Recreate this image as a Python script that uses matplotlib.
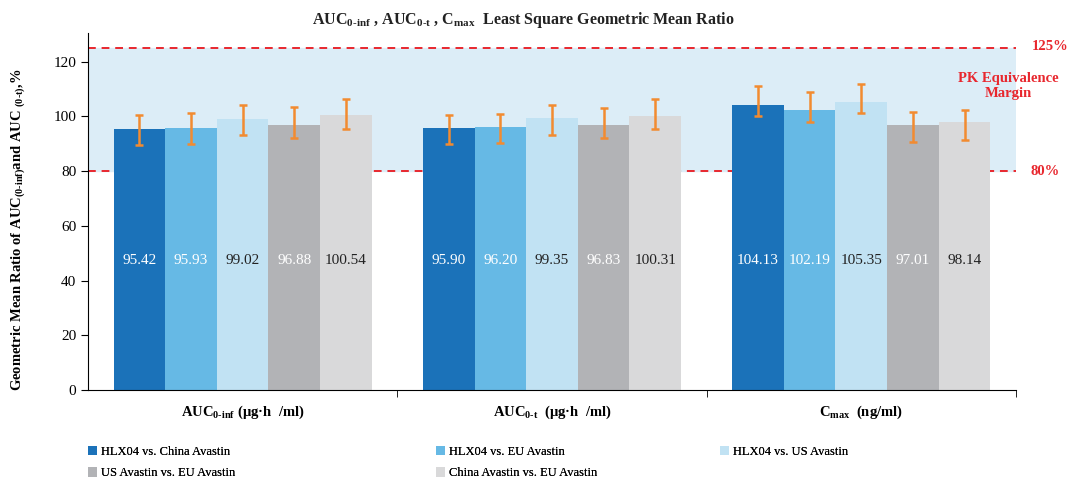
import numpy as np
import matplotlib.pyplot as plt
from matplotlib.patches import Patch

plt.rcParams['font.family'] = ['Liberation Serif', 'DejaVu Serif']
plt.rcParams['mathtext.fontset'] = 'custom'
plt.rcParams['mathtext.rm'] = 'Liberation Serif'
plt.rcParams['mathtext.bf'] = 'Liberation Serif:bold'
plt.rcParams['mathtext.it'] = 'Liberation Serif:italic'

# data
categories = [r'AUC$_{\mathbf{0\text{-}inf}}$ (μg·h  /ml)',
              r'AUC$_{\mathbf{0\text{-}t}}$  (μg·h  /ml)',
              r'C$_{\mathbf{max}}$  (ng/ml)']
series = ['HLX04 vs. China Avastin', 'HLX04 vs. EU Avastin', 'HLX04 vs. US Avastin',
          'US Avastin vs. EU Avastin', 'China Avastin vs. EU Avastin']
ratio = np.array([
    [95.42, 95.93, 99.02, 96.88, 100.54],
    [95.90, 96.20, 99.35, 96.83, 100.31],
    [104.13, 102.19, 105.35, 97.01, 98.14],
])
ci_low = np.array([
    [89.6, 90.1, 93.2, 92.2, 95.4],
    [89.8, 90.4, 93.3, 92.1, 95.4],
    [100.2, 97.9, 101.2, 90.6, 91.3],
])
ci_high = np.array([
    [100.5, 101.1, 104.3, 103.3, 106.4],
    [100.4, 101.0, 104.3, 103.2, 106.5],
    [111.3, 108.8, 112.0, 101.5, 102.2],
])
lower_margin = 80
upper_margin = 125

colors = ['#1B72B9', '#66B9E5', '#C1E2F3', '#B2B3B6', '#D9D9DA']
text_colors = ['white', 'white', '#222222', 'white', '#222222']

fig = plt.figure(figsize=(10.68, 4.79), dpi=100)
ax = fig.add_axes([0.0824, 0.1858, 0.8689, 0.7452])

ax.axhspan(lower_margin, upper_margin, xmin=0, xmax=1.0, color='#DCEDF7', zorder=0)

x = np.arange(len(categories))
w = 0.167
for j in range(len(series)):
    xs = x + (j - 2) * w
    ax.bar(xs, ratio[:, j], width=w, color=colors[j], zorder=2, label=series[j])
    ax.errorbar(xs, ratio[:, j],
                yerr=[ratio[:, j] - ci_low[:, j], ci_high[:, j] - ratio[:, j]],
                fmt='none', ecolor='#F28B30', elinewidth=1.8, capsize=3, capthick=1.8, zorder=3)
    for xi, v in zip(xs, ratio[:, j]):
        ax.text(xi, 47.5, f'{v:.2f}', ha='center', va='center', fontsize=11,
                color=text_colors[j], zorder=4)

for yv in (lower_margin, upper_margin):
    ax.axhline(yv, color='#E8272E', lw=1.4, ls=(0, (4, 3)), zorder=1)

ax.set_xlim(-0.5, 2.5)
ax.set_ylim(0, 130.5)
ax.set_yticks(np.arange(0, 121, 20))
ax.tick_params(axis='y', labelsize=11, length=5, direction='out')
ax.set_xticks(x)
ax.set_xticklabels(categories, fontsize=10.5, fontweight='bold')
ax.tick_params(axis='x', length=0, pad=10)
ax.set_xticks([0.5, 1.5, 2.5], minor=True)
ax.tick_params(axis='x', which='minor', length=5, direction='out')
for s in ('top', 'right'):
    ax.spines[s].set_visible(False)

ax.set_ylabel(r'Geometric Mean Ratio of AUC$_{\mathbf{(0\text{-}inf)}}$and AUC $_{\mathbf{(0\text{-}t)}}$,%',
              fontsize=10.5, fontweight='bold')
ax.yaxis.set_label_coords(-0.066, 0.45)

fig.text(0.49, 0.958,
         r'AUC$_{\mathbf{0\text{-}inf}}$ , AUC$_{\mathbf{0\text{-}t}}$ , C$_{\mathbf{max}}$  Least Square Geometric Mean Ratio',
         ha='center', va='center', fontsize=11.5, fontweight='bold', color='#222222')

red = '#E8272E'
fig.text(0.983, 0.902, '125%', ha='center', va='center', fontsize=10.5, fontweight='bold', color=red)
fig.text(0.979, 0.643, '80%', ha='center', va='center', fontsize=10.5, fontweight='bold', color=red)
fig.text(0.944, 0.82, 'PK Equivalence\nMargin', ha='center', va='center', fontsize=10.5,
         fontweight='bold', color=red, linespacing=1.25)

# legend, placed column by column
handles = [Patch(facecolor=c) for c in colors]
cols = [(0.082, [0, 3]), (0.408, [1, 4]), (0.674, [2])]
for xpos, idx in cols:
    leg = fig.legend([handles[i] for i in idx], [series[i] for i in idx],
                     loc='upper left', bbox_to_anchor=(xpos, 0.069), frameon=False,
                     fontsize=9, handlelength=0.75, handleheight=0.75, handletextpad=0.3,
                     labelspacing=0.75, borderaxespad=0, borderpad=0)
    fig.add_artist(leg)

fig.savefig('out.png', dpi=100)
